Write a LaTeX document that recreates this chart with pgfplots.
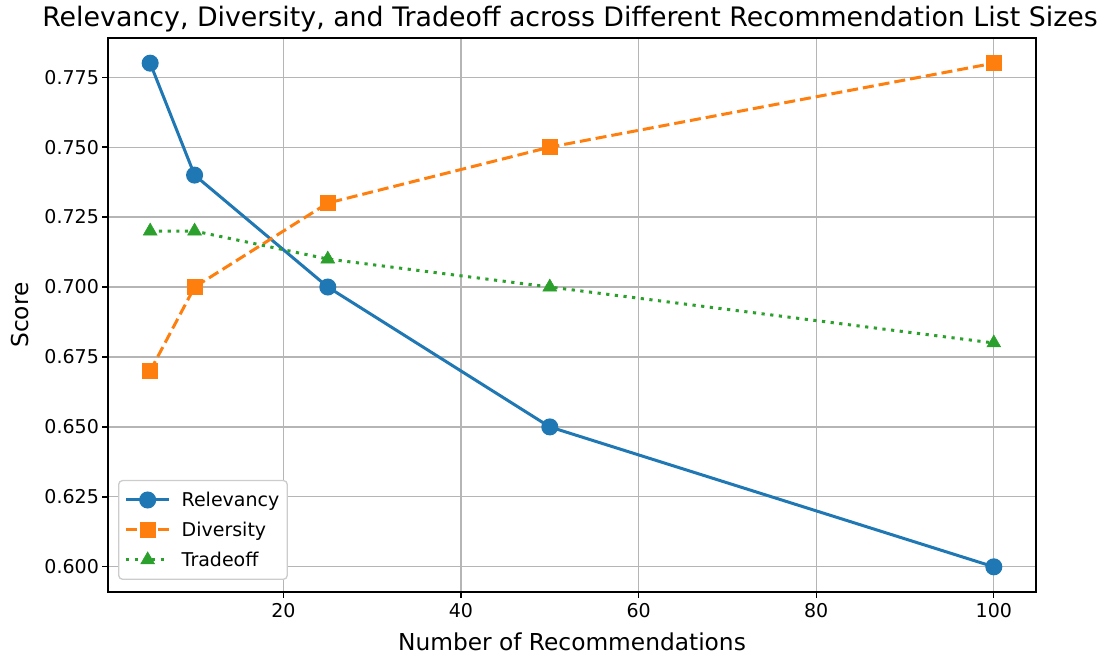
\documentclass[border=0pt]{standalone}
\usepackage{pgfplots}
\pgfplotsset{compat=1.18}
\usepackage{fontspec}
\setmainfont{DejaVu Sans}
\definecolor{tabblue}{HTML}{1F77B4}
\definecolor{taborange}{HTML}{FF7F0E}
\definecolor{tabgreen}{HTML}{2CA02C}
\pgfplotstableread{
x rel div tra
5 0.78 0.67 0.72
10 0.74 0.70 0.72
25 0.70 0.73 0.71
50 0.65 0.75 0.70
100 0.60 0.78 0.68
}\datatable
\begin{document}
\begin{tikzpicture}
\begin{axis}[
  at={(0pt,0pt)}, anchor=south west,
  scale only axis, width=928pt, height=554pt,
  xmin=0.25, xmax=104.75, ymin=0.591, ymax=0.789,
  xtick={20,40,60,80,100},
  ytick={0.600,0.625,0.650,0.675,0.700,0.725,0.750,0.775},
  yticklabel style={/pgf/number format/.cd, fixed, fixed zerofill, precision=3},
  /pgf/number format/assume math mode=true,
  tick label style={font=\fontsize{19}{23}\selectfont},
  xticklabel style={yshift=-2pt},
  xtick pos=bottom, ytick pos=left,
  grid=major, major grid style={color=black!29, line width=1.2pt},
  tick align=outside, major tick length=5.6pt,
  tick style={black, line width=1.3pt},
  axis line style={line width=1.3pt},
  xlabel={Number of Recommendations}, ylabel={Score},
  label style={font=\fontsize{23.3}{27}\selectfont},
  xlabel style={yshift=-8pt},
  ylabel style={yshift=9pt},
  legend cell align=left,
  legend style={at={(rel axis cs:0.0108,0.0217)}, anchor=south west,
    font=\fontsize{19}{23}\selectfont, draw=black!20, line width=1.3pt,
    fill=white, rounded corners=4pt,
    row sep=10pt, inner xsep=6pt, inner ysep=9.5pt},
  legend image code/.code={\draw[mark repeat=2,mark phase=2] plot coordinates {(0pt,0pt) (21.5pt,0pt) (43pt,0pt)};\path (52pt,0pt);},
]
\addplot[tabblue, line width=3pt, mark=*, mark size=7pt, mark options={solid}] table[x=x,y=rel] {\datatable};
\addlegendentry{Relevancy}
\addplot[taborange, line width=3pt, dash pattern=on 11pt off 5pt, mark=square*, mark size=7.5pt, mark options={solid, line width=0.5pt}] table[x=x,y=div] {\datatable};
\addlegendentry{Diversity}
\addplot[tabgreen, line width=3pt, dash pattern=on 3.2pt off 5.5pt, mark=triangle*, mark size=8pt, mark options={solid, line width=0.5pt}] table[x=x,y=tra] {\datatable};
\addlegendentry{Tradeoff}
\end{axis}
\node[anchor=base, font=\fontsize{26.8}{30}\selectfont, inner sep=0pt] at (462pt,565pt) {Relevancy, Diversity, and Tradeoff across Different Recommendation List Sizes};
\pgfresetboundingbox
\path[use as bounding box] (-108pt,-65pt) rectangle (997pt,592pt);
\end{tikzpicture}
\end{document}
